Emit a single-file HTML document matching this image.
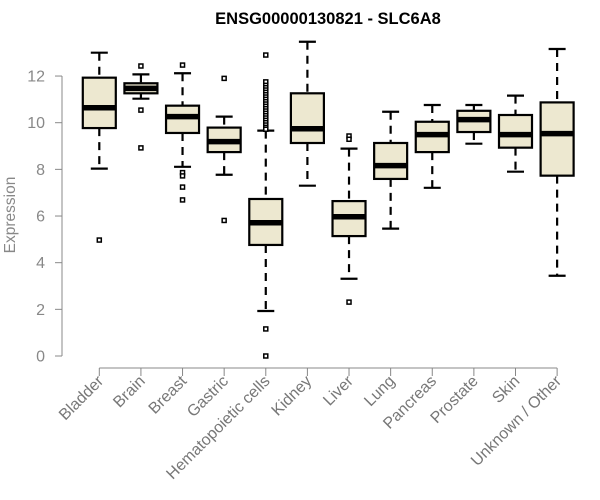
<!DOCTYPE html>
<html><head><meta charset="utf-8"><style>
body{margin:0;background:#fff}
svg{display:block;font-family:"Liberation Sans",Arial,sans-serif}
</style></head><body>
<svg id="chart" width="600" height="500" viewBox="0 0 600 500">
<text x="328" y="24" text-anchor="middle" font-weight="bold" font-size="16.5" fill="#000">ENSG00000130821 - SLC6A8</text>
<text x="0" y="0" transform="translate(15,215) rotate(-90)" text-anchor="middle" font-size="15.5" fill="#888">Expression</text>
<g id="yaxis"></g>
<g id="xaxis"></g>
<g id="boxes"></g>
</svg>
<script>
const categories=["Bladder","Brain","Breast","Gastric","Hematopoietic cells","Kidney","Liver","Lung","Pancreas","Prostate","Skin","Unknown / Other"];
const whiskerLow=[8.03,11.03,8.11,7.77,1.93,7.3,3.31,5.46,7.21,9.1,7.9,3.44];
const q1=[9.77,11.26,9.56,8.74,4.76,9.13,5.14,7.59,8.74,9.6,8.93,7.73];
const median=[10.64,11.47,10.26,9.19,5.71,9.74,5.97,8.16,9.49,10.13,9.49,9.53];
const q3=[11.93,11.69,10.73,9.79,6.73,11.26,6.64,9.13,10.04,10.51,10.33,10.87];
const whiskerHigh=[13.0,12.07,12.12,10.26,9.66,13.47,8.89,10.47,10.76,10.76,11.16,13.16];
const outliers=[[4.97],[12.43,10.54,8.92],[12.47,7.86,7.72,7.24,6.69],[11.9,5.81],
[12.9,11.75,11.6,11.5,11.4,11.3,11.2,11.1,11.0,10.9,10.8,10.7,10.6,10.5,10.4,10.3,10.2,10.1,10.0,9.9,9.8,9.72,1.16,0.0],
[],[9.43,9.29,2.31],[],[],[],[],[]];
const yTicks=[0,2,4,6,8,10,12];

const NS="http://www.w3.org/2000/svg";
function y(v){return 356-v*23.33;}
function x(i){return 99.3+i*41.62;}
function mk(tag,attrs,parent){const e=document.createElementNS(NS,tag);for(const k in attrs)e.setAttribute(k,attrs[k]);parent.appendChild(e);return e;}
const ya=document.getElementById('yaxis'),xa=document.getElementById('xaxis'),bx=document.getElementById('boxes');
mk('line',{x1:62,x2:62,y1:y(0),y2:y(12),stroke:'#888','stroke-width':1},ya);
yTicks.forEach(t=>{
  const l=mk('line',{x1:55,x2:62,y1:y(t),y2:y(t),stroke:'#888','stroke-width':1},ya);
  
  
  const tx=mk('text',{x:45,y:y(t)+5.5,'text-anchor':'end','font-size':16,fill:'#888'},ya);
  tx.textContent=t;
  
  
});
mk('line',{x1:x(0),x2:x(categories.length-1),y1:368,y2:368,stroke:'#888','stroke-width':1},xa);
categories.forEach((c,i)=>{
  const l=mk('line',{x1:x(i),x2:x(i),y1:368,y2:376,stroke:'#888','stroke-width':1},xa);
  
  
  const tx=mk('text',{x:0,y:0,transform:`translate(${x(i)+5},${382}) rotate(-45)`,'text-anchor':'end','font-size':16,fill:'#777'},xa);
  tx.textContent=c;
  
  

  const g=mk('g',{},bx);
  
  
  const cx=x(i),hw=16.5,cw=8.5;
  mk('line',{x1:cx,x2:cx,y1:y(whiskerHigh[i]),y2:y(q3[i]),stroke:'#000','stroke-width':2.2,'stroke-dasharray':'8,6'},g);
  mk('line',{x1:cx,x2:cx,y1:y(q1[i]),y2:y(whiskerLow[i]),stroke:'#000','stroke-width':2.2,'stroke-dasharray':'8,6'},g);
  mk('line',{x1:cx-cw,x2:cx+cw,y1:y(whiskerHigh[i]),y2:y(whiskerHigh[i]),stroke:'#000','stroke-width':2.2},g);
  mk('line',{x1:cx-cw,x2:cx+cw,y1:y(whiskerLow[i]),y2:y(whiskerLow[i]),stroke:'#000','stroke-width':2.2},g);
  mk('rect',{x:cx-hw,y:y(q3[i]),width:hw*2,height:y(q1[i])-y(q3[i]),fill:'#ede8d0',stroke:'#000','stroke-width':2.2},g);
  mk('line',{x1:cx-hw,x2:cx+hw,y1:y(median[i]),y2:y(median[i]),stroke:'#000','stroke-width':5.5},g);
  outliers[i].forEach(v=>{
    const o=mk('rect',{x:cx-2,y:y(v)-2,width:4,height:4,fill:'#fff',stroke:'#000','stroke-width':1.5},g);
    
    
  });
});
</script>
</body></html>
